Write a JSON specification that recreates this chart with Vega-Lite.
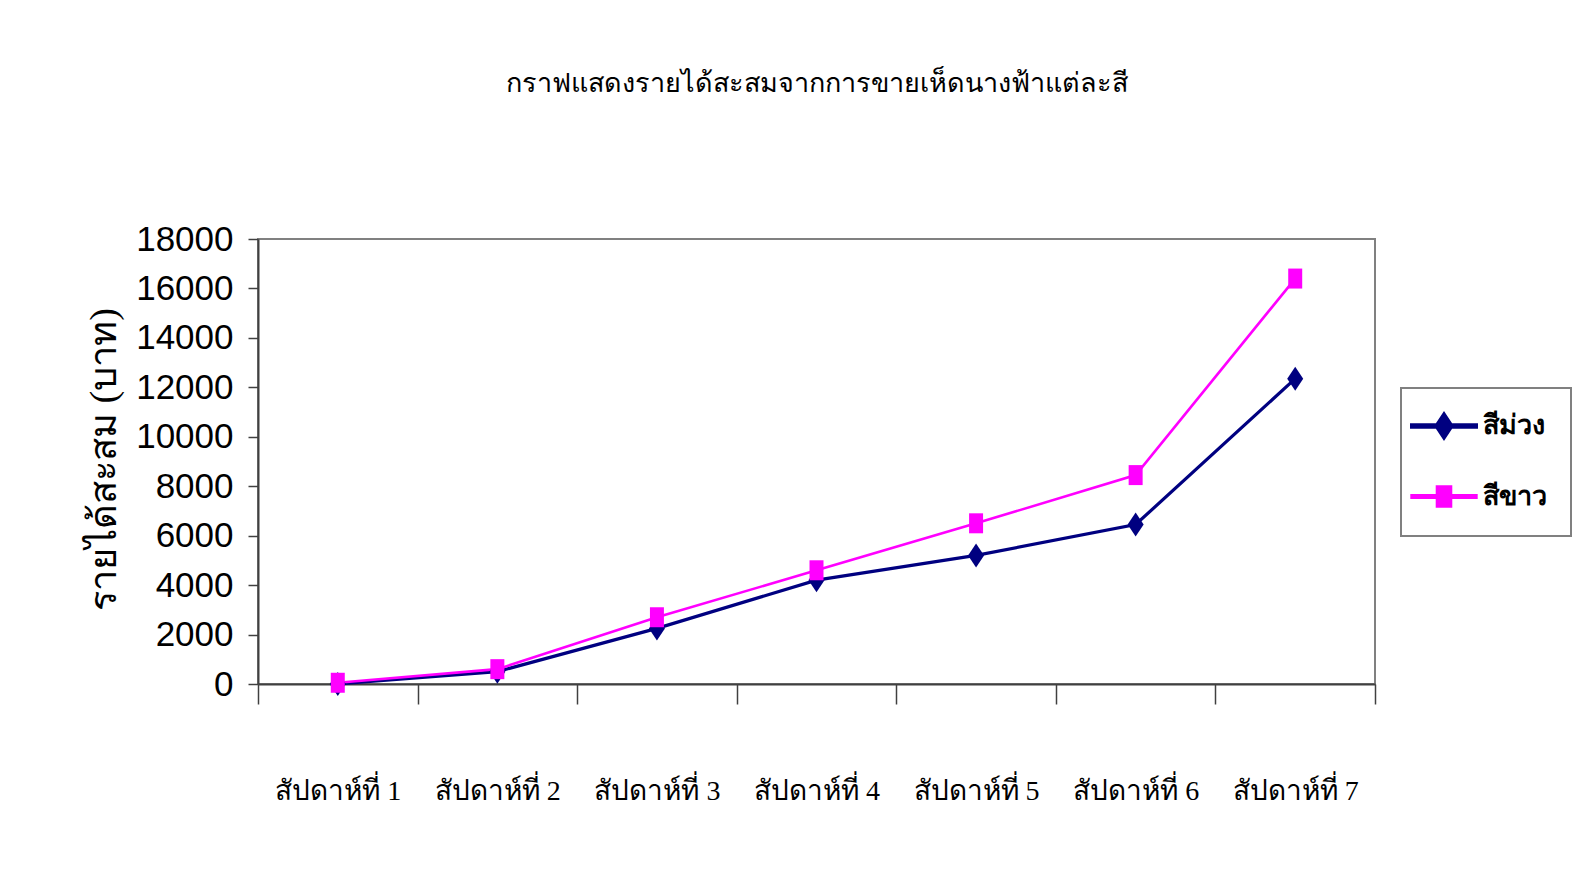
{
  "$schema": "https://vega.github.io/schema/vega-lite/v6.json",
  "autosize": {"type": "none"},
  "width": 1117,
  "height": 445,
  "padding": {"left": 258, "top": 239, "right": 215, "bottom": 212},
  "background": "white",
  "title": {
    "text": "กราฟแสดงรายได้สะสมจากการขายเห็ดนางฟ้าแต่ละสี",
    "font": "Liberation Serif",
    "fontSize": 27,
    "fontWeight": "normal",
    "color": "#000000",
    "anchor": "middle",
    "offset": 124
  },
  "config": {
    "view": {"stroke": "#808080", "strokeWidth": 2},
    "axis": {"grid": false}
  },
  "data": {
    "values": [
      {"week": "สัปดาห์ที่ 1", "series": "สีม่วง", "value": 0},
      {"week": "สัปดาห์ที่ 2", "series": "สีม่วง", "value": 500},
      {"week": "สัปดาห์ที่ 3", "series": "สีม่วง", "value": 2250},
      {"week": "สัปดาห์ที่ 4", "series": "สีม่วง", "value": 4200},
      {"week": "สัปดาห์ที่ 5", "series": "สีม่วง", "value": 5200},
      {"week": "สัปดาห์ที่ 6", "series": "สีม่วง", "value": 6450},
      {"week": "สัปดาห์ที่ 7", "series": "สีม่วง", "value": 12350},
      {"week": "สัปดาห์ที่ 1", "series": "สีขาว", "value": 50},
      {"week": "สัปดาห์ที่ 2", "series": "สีขาว", "value": 600},
      {"week": "สัปดาห์ที่ 3", "series": "สีขาว", "value": 2700},
      {"week": "สัปดาห์ที่ 4", "series": "สีขาว", "value": 4600},
      {"week": "สัปดาห์ที่ 5", "series": "สีขาว", "value": 6500},
      {"week": "สัปดาห์ที่ 6", "series": "สีขาว", "value": 8450},
      {"week": "สัปดาห์ที่ 7", "series": "สีขาว", "value": 16400}
    ]
  },
  "encoding": {
    "x": {
      "field": "week",
      "type": "nominal",
      "sort": null,
      "scale": {"paddingInner": 0, "paddingOuter": 0},
      "axis": {
        "title": null,
        "labelAngle": 0,
        "tickBand": "extent",
        "tickSize": 20,
        "tickColor": "#404040",
        "tickWidth": 1.5,
        "domainColor": "#404040",
        "domainWidth": 2,
        "labelFont": "Liberation Serif",
        "labelFontSize": 28,
        "labelColor": "#000000",
        "labelBaseline": "middle",
        "labelPadding": 87,
        "labelLimit": 300
      }
    },
    "y": {
      "field": "value",
      "type": "quantitative",
      "scale": {"domain": [0, 18000], "nice": false},
      "axis": {
        "values": [0, 2000, 4000, 6000, 8000, 10000, 12000, 14000, 16000, 18000],
        "format": "d",
        "title": "รายได้สะสม (บาท)",
        "titleFont": "Liberation Serif",
        "titleFontSize": 38,
        "titleFontWeight": "normal",
        "titleColor": "#000000",
        "titleAngle": -90,
        "titleX": -154,
        "titleY": 220,
        "titleAlign": "center",
        "titleBaseline": "middle",
        "tickSize": 10,
        "tickColor": "#404040",
        "tickWidth": 1.5,
        "domainColor": "#404040",
        "domainWidth": 2,
        "labelFont": "Liberation Sans",
        "labelFontSize": 35,
        "labelColor": "#000000",
        "labelPadding": 15
      }
    }
  },
  "layer": [
    {
      "mark": {"type": "line"},
      "encoding": {
        "color": {
          "field": "series",
          "type": "nominal",
          "sort": null,
          "scale": {"domain": ["สีม่วง", "สีขาว"], "range": ["#000080", "#FF00FF"]},
          "legend": {
            "title": null,
            "orient": "none",
            "legendX": 1143,
            "legendY": 149,
            "padding": 24,
            "strokeColor": "#808080",
            "fillColor": "#ffffff",
            "symbolSize": 576,
            "symbolStrokeWidth": 0,
            "symbolOffset": 5,
            "labelOffset": 25,
            "labelFont": "Liberation Sans",
            "labelFontSize": 27,
            "labelFontWeight": "bold",
            "labelColor": "#000000",
            "rowPadding": 36,
            "encode": {
              "legend": {"update": {"strokeWidth": {"value": 2}}},
              "symbols": {
                "update": {
                  "shape": {"signal": "datum.value === 'สีม่วง' ? 'M-2.7,-0.1L2.7,-0.1L2.7,0.1L-2.7,0.1Z M0,-1L0.667,0L0,1L-0.667,0Z' : 'M-2.7,-0.09L2.7,-0.09L2.7,0.09L-2.7,0.09Z M-0.583,-0.833L0.583,-0.833L0.583,0.833L-0.583,0.833Z'"},
                  "fill": {"signal": "datum.value === 'สีม่วง' ? '#000080' : '#FF00FF'"},
                  "fillOpacity": {"value": 1},
                  "strokeWidth": {"value": 0},
                  "size": {"value": 576},
                  "opacity": {"value": 1}
                }
              }
            }
          }
        },
        "strokeWidth": {
          "field": "series",
          "type": "nominal",
          "scale": {"domain": ["สีม่วง", "สีขาว"], "range": [3.2, 2.6]},
          "legend": null
        }
      }
    },
    {
      "transform": [{"filter": "datum.series === 'สีม่วง'"}],
      "mark": {"type": "point", "filled": true, "opacity": 1, "size": 576, "shape": "M0,-1L0.667,0L0,1L-0.667,0Z"},
      "encoding": {
        "color": {"field": "series", "type": "nominal", "sort": null}
      }
    },
    {
      "transform": [{"filter": "datum.series === 'สีขาว'"}],
      "mark": {"type": "point", "filled": true, "opacity": 1, "size": 576, "shape": "M-0.583,-0.833H0.583V0.833H-0.583Z"},
      "encoding": {
        "color": {"field": "series", "type": "nominal", "sort": null}
      }
    }
  ]
}
